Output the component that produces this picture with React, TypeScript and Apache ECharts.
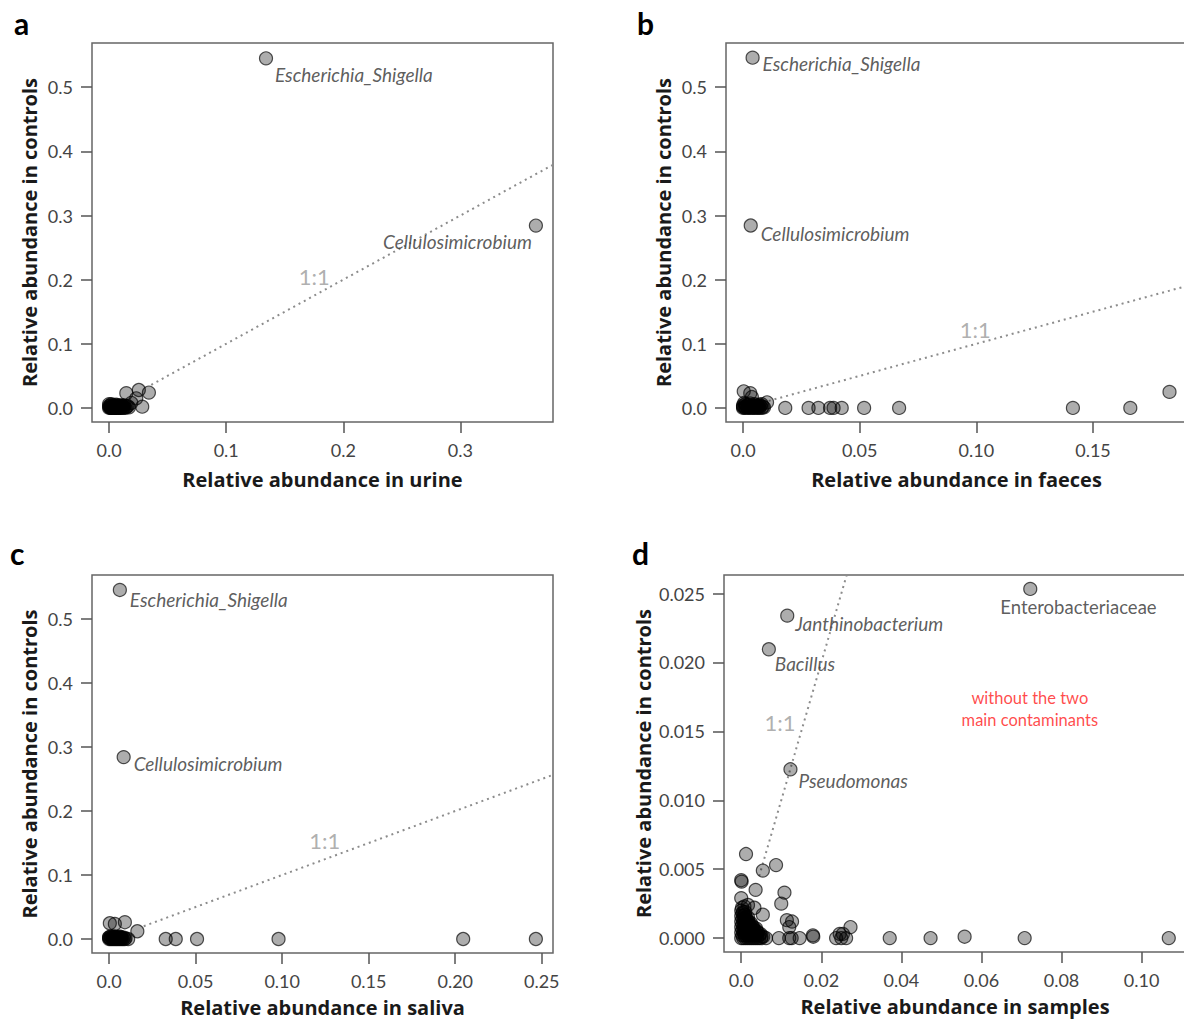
import React, { useEffect, useRef } from "react";
import * as echarts from "echarts";

// ---------- Tick values and labels ----------
const CTRL_Y_TICKS = [0, 0.1, 0.2, 0.3, 0.4, 0.5];
const CTRL_Y_LABELS = ["0.0", "0.1", "0.2", "0.3", "0.4", "0.5"];
const URINE_X_TICKS = [0, 0.1, 0.2, 0.3];
const URINE_X_LABELS = ["0.0", "0.1", "0.2", "0.3"];
const FAECES_X_TICKS = [0, 0.05, 0.1, 0.15];
const FAECES_X_LABELS = ["0.0", "0.05", "0.10", "0.15"];
const SALIVA_X_TICKS = [0, 0.05, 0.1, 0.15, 0.2, 0.25];
const SALIVA_X_LABELS = ["0.0", "0.05", "0.10", "0.15", "0.20", "0.25"];
const SAMPLES_X_TICKS = [0, 0.02, 0.04, 0.06, 0.08, 0.1];
const SAMPLES_X_LABELS = ["0.0", "0.02", "0.04", "0.06", "0.08", "0.10"];
const SAMPLES_Y_TICKS = [0, 0.005, 0.01, 0.015, 0.02, 0.025];
const SAMPLES_Y_LABELS = ["0.000", "0.005", "0.010", "0.015", "0.020", "0.025"];

// ---------- Axis ranges ----------
const URINE_X_RANGE = [-0.0146, 0.3791];
const FAECES_X_RANGE = [-0.0073, 0.1903];
const SALIVA_X_RANGE = [-0.0099, 0.2565];
const SAMPLES_X_RANGE = [-0.0043, 0.1111];
const CTRL_Y_RANGE = [-0.0219, 0.5689];
const SAMPLES_Y_RANGE = [-0.00101, 0.02635];

// ---------- Panel a: urine ----------
const urineNamed = ["Escherichia_Shigella", "Cellulosimicrobium"];
const urineNamedValues = [[0.134, 0.545], [0.3645, 0.2843]];
const urinePoints = [
  [0.0147, 0.023], [0.0254, 0.028], [0.034, 0.024], [0.0283, 0.002], [0.0232, 0.015], [0.019, 0.008],
  [0, 0], [0.001, 0.001], [0.002, 0], [0.003, 0.002], [0.004, 0], [0.005, 0.001], [0.006, 0], [0.007, 0.002],
  [0.008, 0], [0.009, 0.001], [0.01, 0], [0.011, 0.002], [0.012, 0], [0.013, 0.001], [0.014, 0], [0.015, 0.002],
  [0, 0.003], [0.001, 0.004], [0.002, 0.002], [0.003, 0.004], [0.004, 0.003], [0.005, 0.004], [0.006, 0.002],
  [0.007, 0.004], [0.008, 0.003], [0.009, 0.004], [0.01, 0.003], [0.011, 0.004], [0.012, 0.003], [0.013, 0.004],
  [0.0005, 0.001], [0.0015, 0], [0.0025, 0.001], [0.0035, 0], [0.0045, 0.002], [0.0055, 0], [0.0065, 0.001],
  [0.0075, 0], [0.0085, 0.002], [0.0095, 0], [0.0105, 0.001], [0, 0.006], [0.002, 0.006], [0.006, 0.005],
  [0.016, 0.003], [0.017, 0.001],
];
const urineOneToOne = [[0.036, 0.036], [1, 1]];
const urineRatioLabel = [0.1753, 0.2047];

// ---------- Panel b: faeces ----------
const faecesNamed = ["Escherichia_Shigella", "Cellulosimicrobium"];
const faecesNamedValues = [[0.0041, 0.546], [0.0033, 0.2844]];
const faecesPoints = [
  [0.0003, 0.0259], [0.0031, 0.023], [0.0038, 0.017], [0.0103, 0.0088],
  [0.0181, 0], [0.0281, 0], [0.0323, 0], [0.0373, 0], [0.0388, 0], [0.0423, 0], [0.0519, 0], [0.0669, 0],
  [0.1414, 0], [0.166, 0], [0.1828, 0.025],
  [0, 0], [0.0005, 0.001], [0.001, 0], [0.0015, 0.002], [0.002, 0], [0.0025, 0.001], [0.003, 0], [0.0035, 0.003],
  [0.004, 0], [0.0045, 0.001], [0.005, 0], [0.0055, 0.002], [0.006, 0], [0.0065, 0.001], [0.007, 0],
  [0.0075, 0.003], [0.008, 0], [0.0085, 0.002], [0.009, 0.001],
  [0, 0.004], [0.001, 0.006], [0.002, 0.005], [0.003, 0.007], [0.004, 0.004], [0.005, 0.006], [0.006, 0.004],
  [0.007, 0.005], [0.008, 0.006], [0.0005, 0.008], [0.001, 0.002], [0.003, 0.003], [0.005, 0.003], [0, 0.002],
  [0.0065, 0.003],
];
const faecesOneToOne = [[0.011, 0.011], [1, 1]];
const faecesRatioLabel = [0.0995, 0.1216];

// ---------- Panel c: saliva ----------
const salivaNamed = ["Escherichia_Shigella", "Cellulosimicrobium"];
const salivaNamedValues = [[0.0062, 0.5455], [0.0084, 0.2843]];
const salivaPoints = [
  [0.0004, 0.0246], [0.0033, 0.0236], [0.0091, 0.0262], [0.0163, 0.0121], [0.011, 0],
  [0.0327, 0], [0.0385, 0], [0.0508, 0], [0.0979, 0], [0.2046, 0], [0.2466, 0],
  [0, 0], [0.0005, 0.001], [0.001, 0], [0.0015, 0.002], [0.002, 0], [0.0025, 0.001], [0.003, 0], [0.0035, 0.003],
  [0.004, 0], [0.0045, 0.002], [0.005, 0], [0.0055, 0.001], [0.006, 0], [0.0065, 0.002], [0.007, 0],
  [0.0075, 0.001], [0.008, 0], [0.0085, 0.002], [0.009, 0],
  [0, 0.003], [0.001, 0.004], [0.002, 0.003], [0.003, 0.004], [0.004, 0.003], [0.005, 0.003], [0.006, 0.004],
  [0.007, 0.003], [0, 0.002], [0.0095, 0.001],
];
const salivaOneToOne = [[0.02, 0.02], [1, 1]];
const salivaRatioLabel = [0.1246, 0.1547];

// ---------- Panel d: samples ----------
const samplesNamed = ["Enterobacteriaceae", "Janthinobacterium", "Bacillus", "Pseudomonas"];
const samplesNamedValues = [[0.0722, 0.02534], [0.0115, 0.0234], [0.0069, 0.02096], [0.0123, 0.01225]];
const samplesPoints = [
  [0.0012, 0.0061], [0.0054, 0.0049], [0.0087, 0.0053], [0, 0.0042], [0.0001, 0.0041], [0.0036, 0.0035],
  [0.0108, 0.0033], [0.01, 0.0025], [0, 0.0029], [0.0017, 0.0024], [0.0033, 0.0022], [0.0054, 0.0017],
  [0.0114, 0.0013], [0.0127, 0.0012], [0.012, 0.0008], [0.0273, 0.0008], [0.0254, 0.0003], [0.0179, 0.0002],
  [0.0246, 0.0003],
  [0.0062, 0], [0.0094, 0], [0.012, 0], [0.0126, 0], [0.0146, 0], [0.018, 0.0001], [0.0237, 0], [0.025, 0],
  [0.0262, 0], [0.0371, 0], [0.0473, 0], [0.0558, 0.0001], [0.0708, 0], [0.1068, 0],
  [0, 0], [0.0005, 0], [0.001, 0], [0.0015, 0], [0.002, 0], [0.0025, 0], [0.003, 0], [0.0035, 0], [0.004, 0],
  [0.0045, 0], [0.005, 0], [0.0055, 0.0001],
  [0.0003, 0.0002], [0.0009, 0.0002], [0.0015, 0.0002], [0.0021, 0.0002], [0.0027, 0.0002], [0.0033, 0.0002],
  [0.0039, 0.0002], [0.0045, 0.0002], [0.0051, 0.0001],
  [0, 0.0004], [0.0006, 0.0004], [0.0012, 0.0004], [0.0018, 0.0004], [0.0024, 0.0004], [0.003, 0.0004],
  [0.0036, 0.0004], [0.0042, 0.0004], [0.0048, 0.0003],
  [0.0003, 0.0006], [0.0009, 0.0006], [0.0015, 0.0006], [0.0021, 0.0006], [0.0027, 0.0006], [0.0033, 0.0006],
  [0.0039, 0.0005],
  [0, 0.0008], [0.0006, 0.0008], [0.0012, 0.0008], [0.0018, 0.0008], [0.0024, 0.0008], [0.003, 0.0008],
  [0.0037, 0.0007],
  [0.0003, 0.001], [0.0009, 0.001], [0.0015, 0.001], [0.0021, 0.001], [0.0027, 0.0009],
  [0, 0.0012], [0.0006, 0.0012], [0.0012, 0.0012], [0.0018, 0.0012], [0.0024, 0.0011],
  [0.0003, 0.0014], [0.0009, 0.0014], [0.0015, 0.0013],
  [0, 0.0016], [0.0006, 0.0016], [0.0012, 0.0015], [0.0017, 0.0015],
  [0.0003, 0.0018], [0.0009, 0.0017],
  [0, 0.002], [0.0005, 0.0019], [0.001, 0.0019], [0.0002, 0.0022], [0.0008, 0.0023],
];
const samplesOneToOne = [[0.0045, 0.0045], [1, 1]];
const samplesRatioLabel = [0.0097, 0.01563];
const samplesNotePoint = [0.0721, 0.01662];
const samplesNote = "without the two\nmain contaminants";

// ---------- Label placement (pixel offsets from point centre) ----------
const NAMED_LAYOUT = {
  a: [{ dx: 9, dy: 16, align: "left", italic: true }, { dx: -4, dy: 16, align: "right", italic: true }],
  b: [{ dx: 10, dy: 6, align: "left", italic: true }, { dx: 10, dy: 8, align: "left", italic: true }],
  c: [{ dx: 10, dy: 10, align: "left", italic: true }, { dx: 10, dy: 6, align: "left", italic: true }],
  d: [
    { dx: -30, dy: 18, align: "left", italic: false },
    { dx: 8, dy: 8, align: "left", italic: true },
    { dx: 6, dy: 14, align: "left", italic: true },
    { dx: 8, dy: 11, align: "left", italic: true },
  ],
};

const FONT = "Lato, 'Open Sans', sans-serif";
const TITLE_FONT = "'Open Sans', Lato, sans-serif";

const fmt = (ticks: number[], labels: string[]) => (v: number) => {
  const i = ticks.findIndex((t) => Math.abs(t - v) < 1e-9);
  return i >= 0 ? labels[i] : "";
};

function makeAxis(idx: number, ticks: number[], labels: string[], range: number[], name: string, nameGap: number) {
  return {
    type: "value",
    gridIndex: idx,
    min: range[0],
    max: range[1],
    name,
    nameLocation: "middle",
    nameGap,
    nameTextStyle: { fontSize: 20, fontWeight: "bold", color: "#1a1a1a", fontFamily: TITLE_FONT },
    axisLine: { show: false, onZero: false },
    splitLine: { show: false },
    axisTick: { show: true, customValues: ticks, length: 11, lineStyle: { color: "#555", width: 1.5 } },
    axisLabel: {
      customValues: ticks,
      formatter: fmt(ticks, labels),
      color: "#444",
      fontSize: 18,
      fontFamily: FONT,
      margin: 19,
    },
  };
}

const POINT_STYLE = { color: "rgba(0,0,0,0.4)", borderColor: "rgba(0,0,0,0.85)", borderWidth: 1.2 };

function panelSeries(
  idx: number,
  points: number[][],
  named: string[],
  namedValues: number[][],
  layout: any[],
  oneToOne: number[][],
  ratio: number[]
) {
  return [
    {
      type: "line",
      xAxisIndex: idx,
      yAxisIndex: idx,
      data: oneToOne,
      symbol: "none",
      clip: true,
      silent: true,
      z: 1,
      lineStyle: { color: "#8c8c8c", width: 2, type: [2, 4] },
    },
    {
      type: "scatter",
      xAxisIndex: idx,
      yAxisIndex: idx,
      data: points,
      symbolSize: 13,
      itemStyle: POINT_STYLE,
      z: 2,
    },
    {
      type: "scatter",
      xAxisIndex: idx,
      yAxisIndex: idx,
      symbolSize: 13,
      itemStyle: POINT_STYLE,
      z: 3,
      data: named.map((n, i) => ({
        name: n,
        value: namedValues[i],
        label: {
          show: true,
          formatter: n,
          position: "inside",
          align: layout[i].align,
          verticalAlign: "middle",
          offset: [layout[i].dx, layout[i].dy],
          color: "#333",
          fontSize: layout[i].italic ? 19 : 18.5,
          fontStyle: layout[i].italic ? "italic" : "normal",
          fontFamily: FONT,
        },
      })),
    },
    {
      type: "scatter",
      xAxisIndex: idx,
      yAxisIndex: idx,
      symbolSize: 1,
      itemStyle: { color: "rgba(0,0,0,0)" },
      silent: true,
      z: 4,
      data: [
        {
          value: ratio,
          label: {
            show: true,
            formatter: "1:1",
            position: "inside",
            color: "#9a9a9a",
            fontSize: 22,
            fontFamily: FONT,
          },
        },
      ],
    },
  ];
}

export default function App() {
  const ref = useRef<HTMLDivElement>(null);
  useEffect(() => {
    if (!ref.current) return;
    const chart = echarts.init(ref.current, null, { renderer: "svg" });
    const grids = [
      { left: 92, top: 43, width: 461, height: 379 },
      { left: 726, top: 43, width: 461, height: 379 },
      { left: 92, top: 575, width: 461, height: 378 },
      { left: 724, top: 575, width: 462, height: 377 },
    ].map((g) => ({ ...g, show: true, borderColor: "#666", borderWidth: 1.5, backgroundColor: "transparent" }));

    const option = {
      animation: false,
      backgroundColor: "#fff",
      grid: grids,
      xAxis: [
        makeAxis(0, URINE_X_TICKS, URINE_X_LABELS, URINE_X_RANGE, "Relative abundance in urine", 47),
        makeAxis(1, FAECES_X_TICKS, FAECES_X_LABELS, FAECES_X_RANGE, "Relative abundance in faeces", 47),
        makeAxis(2, SALIVA_X_TICKS, SALIVA_X_LABELS, SALIVA_X_RANGE, "Relative abundance in saliva", 44),
        makeAxis(3, SAMPLES_X_TICKS, SAMPLES_X_LABELS, SAMPLES_X_RANGE, "Relative abundance in samples", 44),
      ],
      yAxis: [
        makeAxis(0, CTRL_Y_TICKS, CTRL_Y_LABELS, CTRL_Y_RANGE, "Relative abundance in controls", 53),
        makeAxis(1, CTRL_Y_TICKS, CTRL_Y_LABELS, CTRL_Y_RANGE, "Relative abundance in controls", 53),
        makeAxis(2, CTRL_Y_TICKS, CTRL_Y_LABELS, CTRL_Y_RANGE, "Relative abundance in controls", 53),
        makeAxis(3, SAMPLES_Y_TICKS, SAMPLES_Y_LABELS, SAMPLES_Y_RANGE, "Relative abundance in controls", 71),
      ],
      series: [
        ...panelSeries(0, urinePoints, urineNamed, urineNamedValues, NAMED_LAYOUT.a, urineOneToOne, urineRatioLabel),
        ...panelSeries(1, faecesPoints, faecesNamed, faecesNamedValues, NAMED_LAYOUT.b, faecesOneToOne, faecesRatioLabel),
        ...panelSeries(2, salivaPoints, salivaNamed, salivaNamedValues, NAMED_LAYOUT.c, salivaOneToOne, salivaRatioLabel),
        ...panelSeries(3, samplesPoints, samplesNamed, samplesNamedValues, NAMED_LAYOUT.d, samplesOneToOne, samplesRatioLabel),
        {
          type: "scatter",
          xAxisIndex: 3,
          yAxisIndex: 3,
          symbolSize: 1,
          itemStyle: { color: "rgba(0,0,0,0)" },
          silent: true,
          data: [
            {
              value: samplesNotePoint,
              label: {
                show: true,
                formatter: samplesNote,
                position: "inside",
                align: "center",
                color: "#ff1a1a",
                fontSize: 16.5,
                lineHeight: 22,
                fontFamily: FONT,
              },
            },
          ],
        },
      ],
      graphic: [
        { type: "text", left: 14, top: 8, style: { text: "a", font: `bold 30px ${FONT}`, fill: "#000" } },
        { type: "text", left: 637, top: 8, style: { text: "b", font: `bold 30px ${FONT}`, fill: "#000" } },
        { type: "text", left: 10, top: 538, style: { text: "c", font: `bold 30px ${FONT}`, fill: "#000" } },
        { type: "text", left: 632, top: 538, style: { text: "d", font: `bold 30px ${FONT}`, fill: "#000" } },
      ],
    };
    chart.setOption(option as any);
    return () => chart.dispose();
  }, []);

  return (
    <div style={{ position: "fixed", left: 0, top: 0, width: 1184, height: 1021, overflow: "hidden", background: "#fff" }}>
      <div ref={ref} style={{ width: 1200, height: 1021 }} />
    </div>
  );
}
